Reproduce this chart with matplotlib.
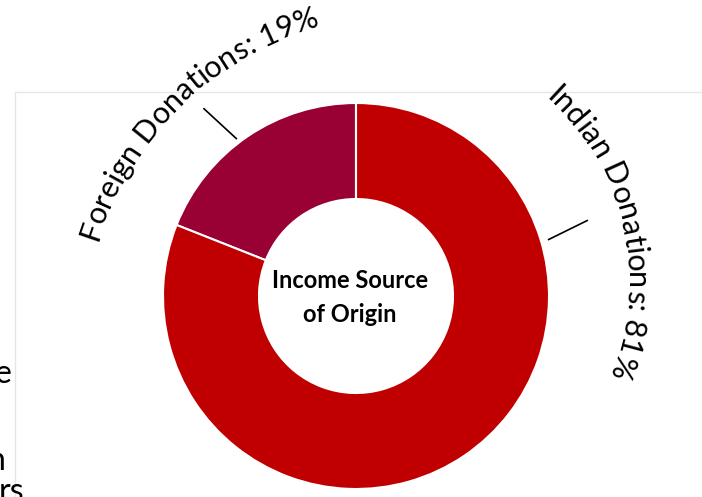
import numpy as np
import matplotlib
matplotlib.use("Agg")
import matplotlib.pyplot as plt
from matplotlib.font_manager import FontProperties
from matplotlib.textpath import TextToPath

# Einkommensquellen (Anteile in %)
sources = ["Foreign Donations", "Indian Donations"]
shares = [19, 81]
colors = ["#990033", "#C00000"]
center_title = ["Income Source", "of Origin"]

W, H = 702, 497
DONUT_C = (356, 201)
DONUT_R = 193
RING_W = 96

fig = plt.figure(figsize=(W / 100, H / 100), dpi=100)
ax = fig.add_axes([0, 0, 1, 1])

ax.pie(shares, colors=colors, startangle=90, counterclock=True,
       center=DONUT_C, radius=DONUT_R,
       wedgeprops=dict(width=RING_W, edgecolor="white", linewidth=1.5))
ax.set_xlim(0, W)
ax.set_ylim(0, H)
ax.set_aspect("equal")
ax.axis("off")

# Rahmen der Kachel
ax.plot([15, W], [H - 92, H - 92], color="#e6e6e6", lw=1)
ax.plot([15, 15], [0, H - 92], color="#e6e6e6", lw=1)

t2p = TextToPath()


def ink_width(s, prop):
    w, _, _ = t2p.get_text_width_height_descent(s, prop, ismath=False)
    return w * 100 / 72


def arc_text(text, cx, cy, r, mid_deg, size):
    # Buchstaben einzeln entlang eines Kreisbogens setzen
    prop = FontProperties(family="Lato", size=size)
    total = ink_width(text, prop)
    for i, ch in enumerate(text):
        if ch == " ":
            continue
        pos = ink_width(text[:i + 1], prop) - ink_width(ch, prop) / 2
        theta = np.radians(mid_deg) - (pos - total / 2) / r
        ax.text(cx + r * np.cos(theta), cy + r * np.sin(theta), ch,
                rotation=np.degrees(theta) - 90, rotation_mode="anchor",
                ha="center", va="baseline", fontproperties=prop)


def leader(a1, r1, a2, r2):
    x = [DONUT_C[0] + r * np.cos(np.radians(a)) for a, r in ((a1, r1), (a2, r2))]
    y = [DONUT_C[1] + r * np.sin(np.radians(a)) for a, r in ((a1, r1), (a2, r2))]
    ax.plot(x, y, color="black", lw=1.2, solid_capstyle="butt")


labels = [f"{s}: {v}%" for s, v in zip(sources, shares)]
arc_text(labels[0], 407, 158, 325, 134.0, 22)
arc_text(labels[1], 381, 216, 246, 12.8, 22)
leader(127.2, 197, 129.1, 242)
leader(16.3, 200, 18.1, 244)

ax.text(350, 216, center_title[0], ha="center", va="center", fontsize=17,
        fontweight="bold", family="Lato")
ax.text(350, 183, center_title[1], ha="center", va="center", fontsize=17,
        fontweight="bold", family="Lato")

# abgeschnittene Texte der Nachbarkachel
for x, y, s in [(11, 114, "e"), (6, 27, "n"), (24, -4, "rs")]:
    ax.text(x, y, s, ha="right", va="baseline", fontsize=23, family="Lato")

fig.savefig("out.png", dpi=100)
